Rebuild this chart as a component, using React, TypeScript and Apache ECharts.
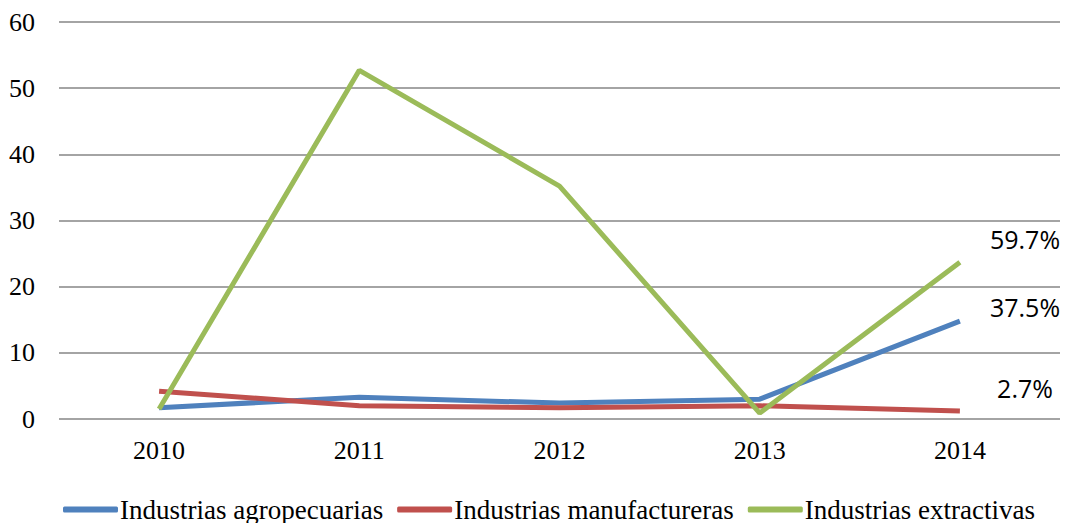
import React, { useEffect, useRef } from "react";
import * as echarts from "echarts";

const years = ["2010", "2011", "2012", "2013", "2014"];
const agro = [1.7, 3.3, 2.4, 3.0, 14.8];
const manuf = [4.2, 2.0, 1.7, 2.0, 1.2];
const extract = [1.5, 52.7, 35.2, 0.9, 23.7];
const seriesNames = ["Industrias agropecuarias", "Industrias manufactureras", "Industrias extractivas"];
const colors = ["#4F81BD", "#C0504D", "#9BBB59"];
const endLabels = ["59.7%", "37.5%", "2.7%"];
const endLabelY = [239, 307, 388];

export default function App() {
  const ref = useRef<HTMLDivElement>(null);
  useEffect(() => {
    const chart = echarts.init(ref.current!, null, { renderer: "svg" });
    const serif = "'Liberation Serif', 'Times New Roman', serif";
    const mk = (name: string, data: number[], color: string) => ({
      name,
      type: "line",
      data,
      symbol: "none",
      lineStyle: { color, width: 5 },
      itemStyle: { color },
    });
    chart.setOption({
      animation: false,
      backgroundColor: "#ffffff",
      grid: { left: 59, right: 6, top: 22, bottom: 104, containLabel: false },
      xAxis: {
        type: "category",
        data: years,
        boundaryGap: true,
        axisLine: { show: false },
        axisTick: { show: false },
        axisLabel: { fontFamily: serif, fontSize: 26, color: "#000", margin: 18 },
      },
      yAxis: {
        type: "value",
        min: 0,
        max: 60,
        interval: 10,
        axisLine: { show: false },
        axisTick: { show: false },
        axisLabel: { fontFamily: serif, fontSize: 26, color: "#000", margin: 24 },
        splitLine: { lineStyle: { color: "#868686", width: 1.5 } },
      },
      legend: {
        top: 496,
        left: 63,
        padding: 0,
        icon: "roundRect",
        itemWidth: 55,
        itemHeight: 6,
        itemGap: 14,
        textStyle: { fontFamily: serif, fontSize: 27, color: "#000", padding: [0, 0, 0, -3] },
        data: seriesNames,
      },
      graphic: endLabels.map((t, i) => ({
        type: "text",
        x: 1025,
        y: endLabelY[i],
        style: {
          text: t,
          fontFamily: "'Open Sans', 'Liberation Sans', sans-serif",
          fontSize: 25,
          fill: "#000",
          textAlign: "center",
          textVerticalAlign: "middle",
        },
      })),
      series: [
        mk(seriesNames[0], agro, colors[0]),
        mk(seriesNames[1], manuf, colors[1]),
        mk(seriesNames[2], extract, colors[2]),
      ],
    });
    return () => chart.dispose();
  }, []);
  return <div ref={ref} style={{ position: "fixed", left: 0, top: 0, width: 1066, height: 523 }} />;
}
